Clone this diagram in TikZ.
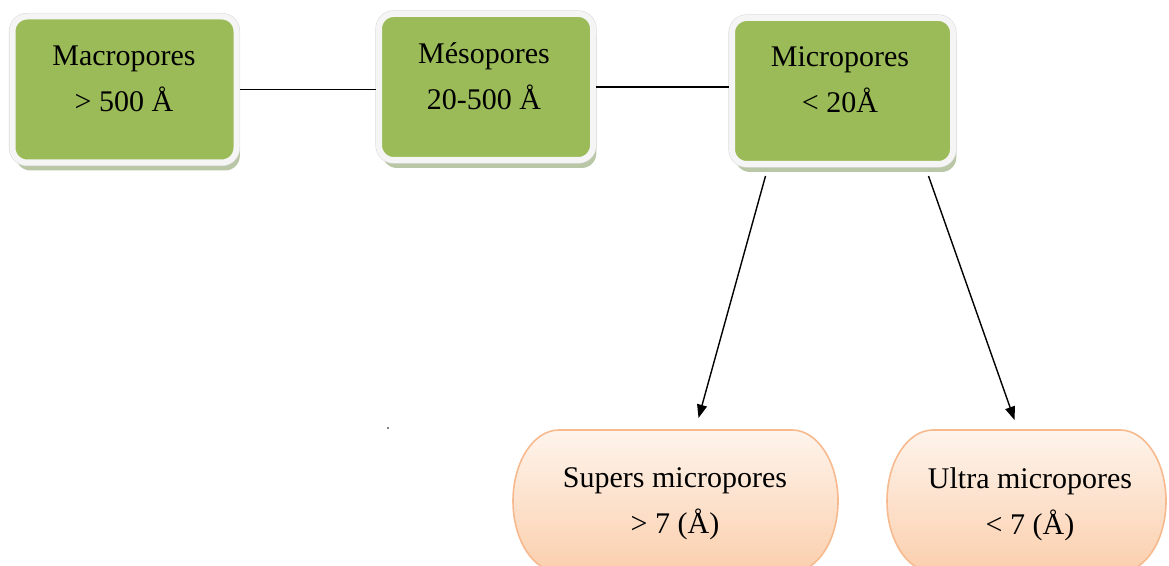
\documentclass[tikz,border=0pt]{standalone}
\usepackage{fontspec}
\setmainfont{Liberation Serif}
\usetikzlibrary{shadows,arrows.meta,calc}
\definecolor{boxgreen}{HTML}{9BBB59}
\definecolor{framewhite}{HTML}{F5F5F5}
\definecolor{frameedge}{HTML}{DCDCDC}
\definecolor{shadowgreen}{HTML}{AEBD96}
\definecolor{peachedge}{HTML}{F6BA8E}
\definecolor{peachtop}{HTML}{FEF4EC}
\definecolor{peachbottom}{HTML}{FBCFAD}
\begin{document}
\begin{tikzpicture}[x=0.75pt,y=-0.75pt,
  greenbox/.style={rectangle, rounded corners=11pt, fill=boxgreen,
    draw=framewhite, line width=4.5pt,
    drop shadow={shadow xshift=2.5pt, shadow yshift=-6pt, fill=shadowgreen, opacity=0.85},
    preaction={draw=frameedge, line width=5.4pt}},
  slot/.style={rectangle, inner sep=0pt, outer sep=0pt},
  peachbox/.style={draw=peachedge, line width=1.2pt, top color=peachtop, bottom color=peachbottom},
  txt/.style={font=\fontsize{22.5pt}{34.5pt}\selectfont, align=center, inner sep=0pt},
  link/.style={draw=black, line width=1.3pt},
  arrowlink/.style={draw=black, line width=1.05pt, -{Triangle[length=10pt,width=7.5pt]}}]
\useasboundingbox (0,0) rectangle (1169,566);
\clip (0,0) rectangle (1169,566);

% pore size classes
\node[greenbox, minimum width=168pt, minimum height=109.5pt] (macro) at (124.5,89.5) {};
\node[greenbox, minimum width=160.5pt, minimum height=109.5pt] (meso) at (486,87) {};
\node[greenbox, minimum width=165.75pt, minimum height=109.5pt] (micro) at (842.5,91) {};

% sub-classes of micropores: boxes with elliptical ends
\node[slot, minimum width=243.75pt, minimum height=106.5pt] (supers) at (675.5,501) {};
\node[slot, minimum width=209.25pt, minimum height=106.5pt] (ultra) at (1026.5,501) {};
\foreach \b in {supers,ultra}{
  \path[peachbox] ($(\b.north west)+(46,0)$) -- ($(\b.north east)+(-46,0)$)
    arc[start angle=90, end angle=-90, x radius=34.5pt, y radius=53.25pt]
    -- ($(\b.south west)+(46,0)$)
    arc[start angle=270, end angle=90, x radius=34.5pt, y radius=53.25pt] -- cycle;
}

% labels
\node[txt] (macro-t) at (124,79) {Macropores\\> 500 Å};
\node[txt] (meso-t) at (484,76) {Mésopores\\20-500 Å};
\node[txt] (micro-t) at (840,80) {Micropores\\< 20Å};
\node[txt] (supers-t) at (675,504) {Supers micropores\\> 7 (Å)};
\node[txt] (ultra-t) at (1030,504) {Ultra micropores\\< 7 (Å)};

% connectors
\draw[link] (macro.east) -- (macro.east -| meso.west);
\draw[link] (meso.east) -- (meso.east -| micro.west);
\draw[arrowlink] ($(micro.south)+(-77,9)$) -- ($(supers.north)+(23,-12)$);
\draw[arrowlink] ($(micro.south)+(86,9)$) -- ($(ultra.north)+(-12,-10)$);

\fill (388,428) circle (0.7pt);
\end{tikzpicture}
\end{document}
